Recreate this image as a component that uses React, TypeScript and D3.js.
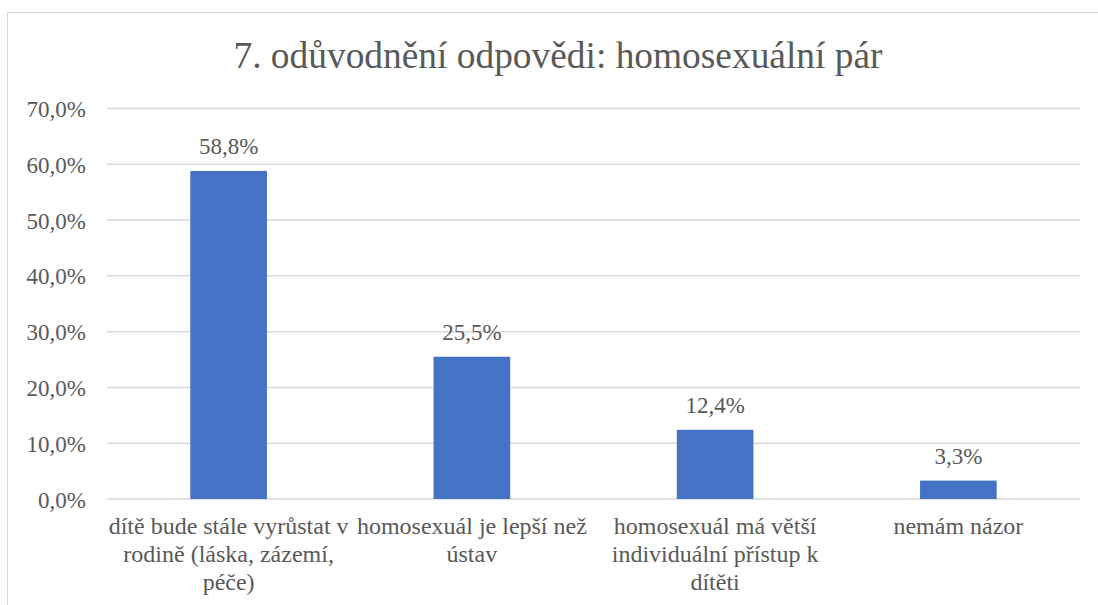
import React from "react";
import * as d3 from "d3";

const title = "7. odůvodnění odpovědi: homosexuální pár";
const categories = [
  "dítě bude stále vyrůstat v\nrodině (láska, zázemí,\npéče)",
  "homosexuál je lepší než\nústav",
  "homosexuál má větší\nindividuální přístup k\ndítěti",
  "nemám názor",
];
const values = [58.8, 25.5, 12.4, 3.3];
const yTicks = [0, 10, 20, 30, 40, 50, 60, 70];

const W = 1098;
const H = 605;
const plot = { left: 107, right: 1080, top: 108.5, bottom: 499 };
const TEXT = "#595959";

const fmt = (v: number) => v.toFixed(1).replace(".", ",") + "%";

export default function App() {
  const x = d3.scaleBand<number>().domain(d3.range(categories.length)).range([plot.left, plot.right]).padding(0);
  const y = d3.scaleLinear().domain([0, 70]).range([plot.bottom, plot.top]);
  const bw = x.bandwidth() * 0.315;

  return (
    <svg width={W} height={H} style={{ position: "absolute", left: 0, top: 0, background: "#fff" }}>
      <style>{`.ser { font-family: "Liberation Serif", serif !important; fill: ${TEXT}; }`}</style>
      <rect x={7.5} y={12.5} width={1100} height={700} fill="#fff" stroke="#d9d9d9" strokeWidth={1} />
      <text className="ser" x={558} y={68} textAnchor="middle" fontSize={37.4}>{title}</text>
      {yTicks.map((t) => (
        <g key={t}>
          <line x1={plot.left} x2={plot.right} y1={y(t)} y2={y(t)} stroke="#d9d9d9" strokeWidth={1.5} />
          <text className="ser" x={86} y={y(t) + 8.5} textAnchor="end" fontSize={23}>{fmt(t)}</text>
        </g>
      ))}
      {values.map((v, i) => {
        const cx = (x(i) as number) + x.bandwidth() / 2;
        return (
          <g key={i}>
            <rect x={cx - bw / 2} y={y(v)} width={bw} height={y(0) - y(v)} fill="#4472c4" />
            <text className="ser" x={cx} y={y(v) - 17} textAnchor="middle" fontSize={23}>{fmt(v)}</text>
            <text className="ser" textAnchor="middle" fontSize={24}>
              {categories[i].split("\n").map((ln, j) => (
                <tspan key={j} x={cx} y={534 + j * 28}>{ln}</tspan>
              ))}
            </text>
          </g>
        );
      })}
    </svg>
  );
}
